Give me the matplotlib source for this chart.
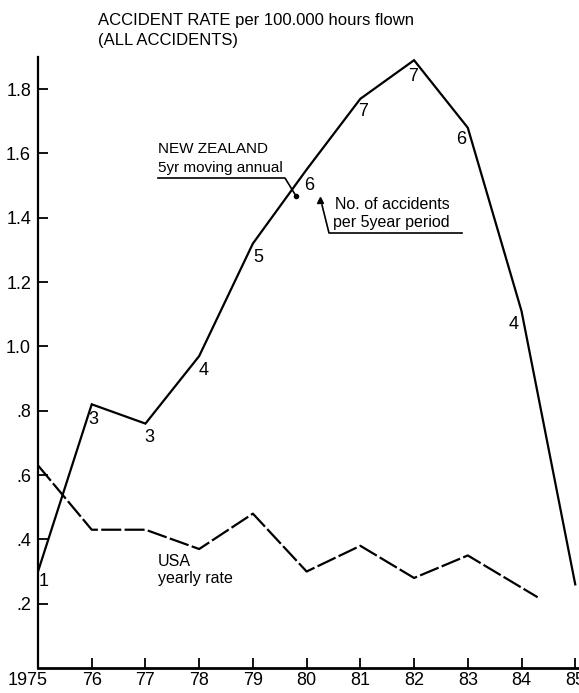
import matplotlib
matplotlib.use('Agg')

import matplotlib.pyplot as plt
import matplotlib.transforms as mtransforms
from matplotlib.lines import Line2D

# NZ 5yr moving annual rate, with no. of accidents per 5 year period
nz_years = [1975, 1976, 1977, 1978, 1979, 1980, 1981, 1982, 1983, 1984, 1985]
nz_rate = [0.30, 0.82, 0.76, 0.97, 1.32, 1.55, 1.77, 1.89, 1.68, 1.11, 0.26]
nz_count = ['1', '3', '3', '4', '5', '6', '7', '7', '6', '4', '']

# USA yearly rate (line stops a little after 1984)
usa_years = [1975, 1976, 1977, 1978, 1979, 1980, 1981, 1982, 1983, 1984.3]
usa_rate = [0.63, 0.43, 0.43, 0.37, 0.48, 0.30, 0.38, 0.28, 0.35, 0.22]

y_ticks = [0.2, 0.4, 0.6, 0.8, 1.0, 1.2, 1.4, 1.6, 1.8]
y_labels = ['.2', '.4', '.6', '.8', '1.0', '1.2', '1.4', '1.6', '1.8']
x_ticks = list(range(1975, 1986))
x_labels = ['1975', '76', '77', '78', '79', '80', '81', '82', '83', '84', '85']

# label offsets (pixels) of the count numbers from their points
count_dx = [6, 2, 4, 4, 5, 3, 3, -1, -7, -8, 0]
count_dy = [-10, -15, -14, -14, -14, -16, -13, -16, -12, -13, 0]

plt.rcParams['font.family'] = ['Liberation Sans', 'DejaVu Sans']

W, H = 579, 693
fig = plt.figure(figsize=(W / 100, H / 100), dpi=100)
ax = fig.add_axes([38 / W, 25 / H, 541 / W, 611 / H])


def px(x, y):
    # pixel position (from top-left) -> figure fraction
    return x / W, 1 - y / H


ax.plot(nz_years, nz_rate, color='black', lw=1.6, solid_joinstyle='miter')
ax.plot(usa_years, usa_rate, color='black', lw=1.6, dashes=(9, 1.5))

for x, y, c, dx, dy in zip(nz_years, nz_rate, nz_count, count_dx, count_dy):
    if c:
        ax.annotate(c, (x, y), xytext=(dx, dy), textcoords='offset pixels',
                    ha='center', va='center', fontsize=13)

ax.set_xlim(1975, 1985.07)
ax.set_ylim(0, 1.9)
ax.set_xticks(x_ticks)
ax.set_xticklabels(x_labels)
ax.set_yticks(y_ticks)
ax.set_yticklabels(y_labels)
ax.tick_params(direction='in', length=7, width=1.3, labelsize=13, pad=3)
ax.tick_params(axis='y', pad=5)
for s in ['top', 'right']:
    ax.spines[s].set_visible(False)
ax.spines['left'].set_linewidth(1.6)
ax.spines['bottom'].set_linewidth(2)

# first year label sits left of its tick
lbl = ax.get_xticklabels()[0]
lbl.set_transform(lbl.get_transform() +
                  mtransforms.ScaledTranslation(-0.1, 0, fig.dpi_scale_trans))

# titles and notes
fig.text(*px(98, 21), 'ACCIDENT RATE per 100.000 hours flown',
         fontsize=12, va='center')
fig.text(*px(98, 41), '(ALL ACCIDENTS)', fontsize=12, va='center')

fig.text(*px(158, 149), 'NEW ZEALAND', fontsize=11, va='center')
fig.text(*px(158, 168), '5yr moving annual', fontsize=11, va='center')
fig.add_artist(Line2D([px(158, 178)[0], px(285, 178)[0], px(296, 196)[0]],
                      [px(158, 178)[1], px(285, 178)[1], px(296, 196)[1]],
                      color='black', lw=1.2))
fig.add_artist(Line2D([px(296, 196)[0]], [px(296, 196)[1]], marker='o',
                      ms=3, color='black'))

fig.text(*px(335, 205), 'No. of accidents', fontsize=11.5, va='center')
fig.text(*px(333, 223), 'per 5year period', fontsize=11.5, va='center')
fig.add_artist(Line2D([px(462, 233)[0], px(329, 233)[0], px(322, 205)[0]],
                      [px(462, 233)[1], px(329, 233)[1], px(322, 205)[1]],
                      color='black', lw=1.2))
fig.add_artist(Line2D([px(320, 200)[0]], [px(320, 200)[1]], marker='^',
                      ms=4, color='black'))

fig.text(*px(158, 561), 'USA', fontsize=11.5, va='center')
fig.text(*px(158, 578), 'yearly rate', fontsize=11.5, va='center')

fig.savefig('out.png', dpi=100)
